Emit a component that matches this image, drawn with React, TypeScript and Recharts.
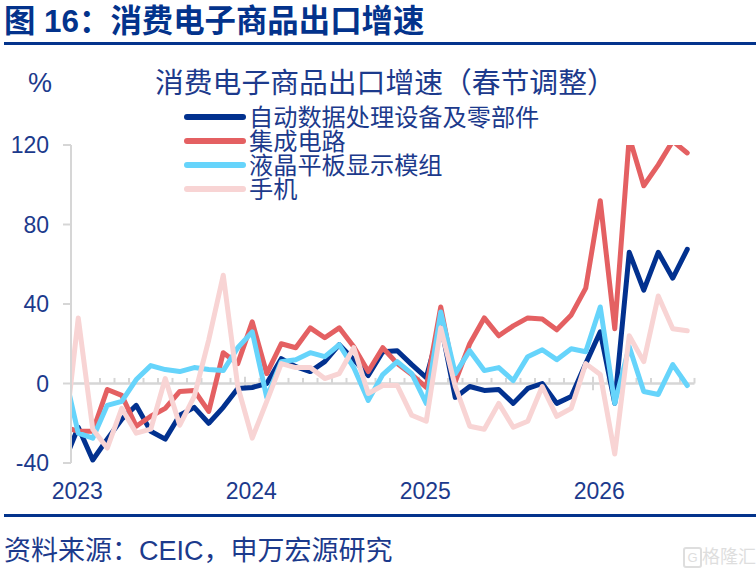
import { LineChart, Line, XAxis, YAxis, ReferenceLine, Legend } from 'recharts'

const months = [
  '2022-12',
  '2023-01', '2023-02', '2023-03', '2023-04', '2023-05', '2023-06', '2023-07', '2023-08', '2023-09', '2023-10', '2023-11', '2023-12',
  '2024-01', '2024-02', '2024-03', '2024-04', '2024-05', '2024-06', '2024-07', '2024-08', '2024-09', '2024-10', '2024-11', '2024-12',
  '2025-01', '2025-02', '2025-03', '2025-04', '2025-05', '2025-06', '2025-07', '2025-08', '2025-09', '2025-10', '2025-11', '2025-12',
  '2026-01', '2026-02', '2026-03', '2026-04', '2026-05', '2026-06', '2026-07',
]

const computers = [
  -40, -22, -38.5, -28, -18, -11, -24, -28, -16, -12, -20, -12, -2.5,
  -2, 0, 12.5, 8.5, 6, 11, 19.5, 12, 4, 16, 16.5, 9.5,
  3, 30, -7, -1.5, -3.5, -3, -10, -2.5, 0, -10, -6.5, 10,
  26, -10, 66, 47, 66, 53, 67.5,
]
const chips = [
  -22, -24, -24, -3, -6, -21.5, -16.5, -12.5, -4, -3.5, -14, 15.5, 10,
  31, 5, 20, 18, 28, 23, 28, 18.5, 6, 18, 10, 4.5,
  -2, 38.5, 1, 20, 33, 24, 29, 33, 32.5, 27, 34.5, 48,
  92, 27.5, 124, 99.5, 110, 122, 116,
]
const panels = [
  7, -25, -27.5, -11, -9, 2, 9, 7, 6, 8, 7, 6.5, 18,
  26, -7, 11, 12, 15.5, 13.5, 19.5, 8, -8.5, 4.5, 11, 5,
  -10, 36, 5, 16.5, 6.5, 8, 1.5, 13.5, 17, 12, 17.5, 16,
  38.5, -10, 18.5, -4, -5.5, 9.5, -1,
]
const phones = [
  -32, 33, -23, -32.5, -12.5, -25, -23, 2.5, -21, -6.5, 22, 54.5, -1.5,
  -27.5, -9, 10, 8, 8, 2.5, 5, 18, -5, -1, -1, -16,
  -19, 28, -1.5, -21.5, -23, -10, -22, -19, -1.5, -16.5, -12.5, 10,
  4.5, -35.5, 24, 11, 44, 27.5, 26.5,
]

const seriesNames = ['自动数据处理设备及零部件', '集成电路', '液晶平板显示模组', '手机']
const seriesColors = ['#02318f', '#e46062', '#66d4fb', '#f8d4d4']
const seriesKeys = ['computers', 'chips', 'panels', 'phones']

const yTicks = [-40, 0, 40, 80, 120]
const yearTicks = [1, 13, 25, 37]

const rows = months.map((month, i) => ({
  idx: i,
  month,
  computers: computers[i],
  chips: chips[i],
  panels: panels[i],
  phones: phones[i],
}))

const TEXT = '#1c3a8c'
const AXIS = '#d6d6d6'
const FONT = '"Liberation Sans", "Noto Sans CJK SC", sans-serif'

function ChartLegend() {
  return (
    <div>
      {seriesNames.map((name, i) => (
        <div key={name} style={{ display: 'flex', alignItems: 'center', height: 24 }}>
          <div style={{ width: 62, height: 6, borderRadius: 3, background: seriesColors[i], marginRight: 4, marginTop: -3 }} />
          <span style={{ fontSize: 24.2, color: TEXT, lineHeight: '24px', whiteSpace: 'nowrap', marginLeft: -1 }}>{name}</span>
        </div>
      ))}
    </div>
  )
}

const abs = (left: number, top: number, extra: object) => ({
  position: 'absolute' as const,
  left,
  top,
  whiteSpace: 'nowrap' as const,
  ...extra,
})

function YearTick({ x, y, payload }: any) {
  return (
    <text x={x - 1} y={y + 19} textAnchor="middle" dominantBaseline="middle" fill={TEXT} fontSize={23}>
      {months[payload.value].slice(0, 4)}
    </text>
  )
}

export default function App() {
  // tick marks sit on the category edges, along the zero line
  const edges = months.slice(1).map((_, i) => i + 0.5).concat(months.length - 0.5)

  return (
    <div style={{ position: 'absolute', left: 0, top: 0, width: 756, height: 573, background: '#fff', fontFamily: FONT, overflow: 'hidden' }}>
      <div style={abs(4, 3, { fontSize: 31.4, fontWeight: 700, color: '#03338c', lineHeight: '38px' })}>图 16：消费电子商品出口增速</div>
      <div style={{ position: 'absolute', left: 4, top: 42, width: 752, height: 3, background: '#03338c' }} />
      <div style={abs(28, 67, { fontSize: 27, color: TEXT, lineHeight: '32px' })}>%</div>
      <div style={abs(155, 65, { fontSize: 28.8, color: TEXT, lineHeight: '36px' })}>消费电子商品出口增速（春节调整）</div>

      <LineChart width={756} height={573} data={rows} margin={{ top: 145, left: 11, right: 61.5, bottom: 70 }} style={{ position: 'absolute', left: 0, top: 0 }}>
        <XAxis
          dataKey="idx"
          type="number"
          domain={[0.5, 43.5]}
          allowDataOverflow
          ticks={yearTicks}
          axisLine={false}
          tickLine={false}
          height={40}
          tickMargin={5}
          tick={<YearTick />}
          interval={0}
        />
        <YAxis
          type="number"
          domain={[-40, 120]}
          allowDataOverflow
          ticks={yTicks}
          width={60}
          axisLine={{ stroke: AXIS, strokeWidth: 2 }}
          tickLine={{ stroke: AXIS, strokeWidth: 2 }}
          tickSize={8}
          tickMargin={14}
          tick={{ fill: TEXT, fontSize: 23 }}
          interval={0}
        />
        <ReferenceLine y={0} stroke={AXIS} strokeWidth={2.5} />
        {edges.map((x, i) => {
          const major = i % 12 === 0
          return (
            <ReferenceLine
              key={x}
              stroke={AXIS}
              strokeWidth={2}
              segment={major ? [{ x, y: -3.4 }, { x, y: 3.4 }] : [{ x, y: 0 }, { x, y: 2.8 }]}
            />
          )
        })}
        {seriesKeys.map((key, i) => (
          <Line
            key={key}
            dataKey={key}
            name={seriesNames[i]}
            stroke={seriesColors[i]}
            strokeWidth={5}
            dot={false}
            activeDot={false}
            strokeLinejoin="round"
            strokeLinecap="round"
            isAnimationActive={false}
          />
        ))}
        <Legend
          layout="vertical"
          align="center"
          verticalAlign="middle"
          content={() => <ChartLegend />}
          wrapperStyle={{ left: 184, top: 106, width: 380 }}
        />
      </LineChart>

      <div style={{ position: 'absolute', left: 4, top: 514, width: 752, height: 3, background: '#03338c' }} />
      <div style={abs(4, 534, { fontSize: 27, color: TEXT, lineHeight: '34px' })}>资料来源：CEIC，申万宏源研究</div>
      <div style={{ position: 'absolute', left: 683, top: 547, width: 15, height: 17, border: '2px solid #dedede', borderRadius: 3, color: '#dedede', fontSize: 13, lineHeight: '17px', textAlign: 'center' }}>G</div>
      <div style={abs(702, 546, { fontSize: 18, color: '#dedede', lineHeight: '22px' })}>格隆汇</div>
    </div>
  )
}
